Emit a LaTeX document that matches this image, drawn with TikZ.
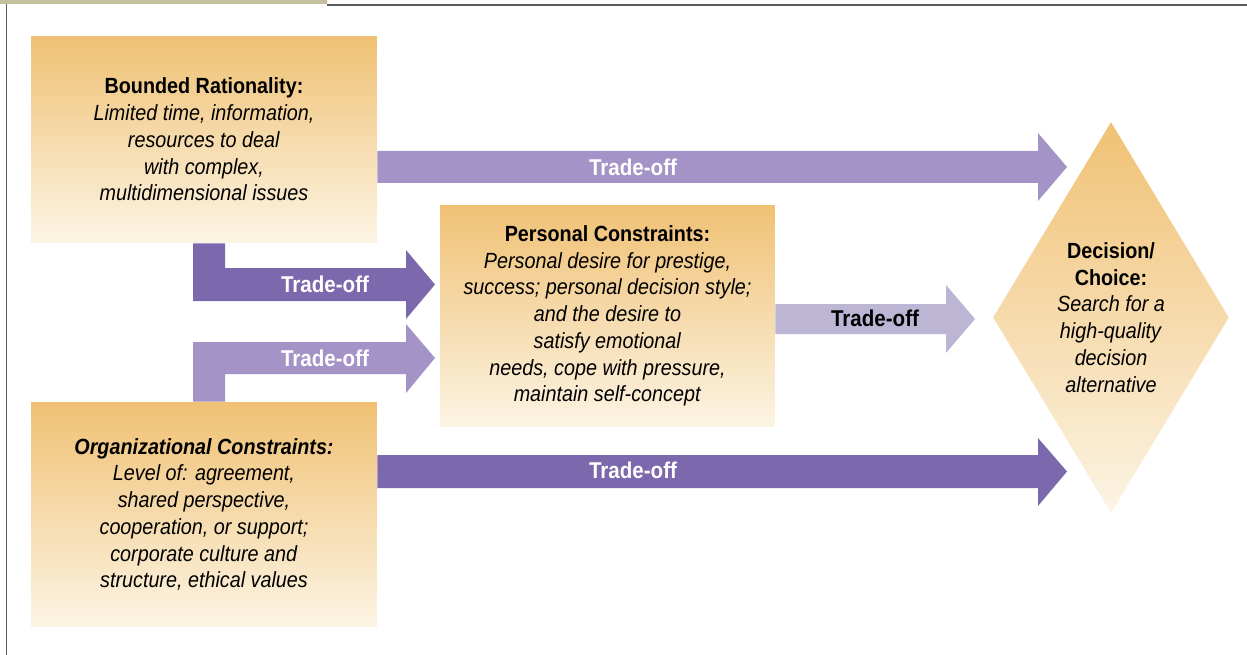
\documentclass[tikz,border=0pt]{standalone}
\usepackage{fontspec}
\setmainfont{Liberation Sans}[FakeStretch=0.9]
\usetikzlibrary{shapes.geometric}

\definecolor{tantop}{RGB}{240,193,116}
\definecolor{tanbot}{RGB}{252,244,228}
\definecolor{plumdark}{RGB}{124,104,172}
\definecolor{plumlight}{RGB}{164,147,199}
\definecolor{plumpale}{RGB}{188,182,212}
\definecolor{framegray}{RGB}{90,90,90}
\definecolor{barkhaki}{RGB}{196,192,160}

\begin{document}
\begin{tikzpicture}[
  x = 0.02cm, y = -0.02cm,
  every node/.style = {font=\fontsize{12.5}{15.2}\selectfont},
  box/.style = {rectangle, align=center, inner sep=0pt,
                top color=tantop, bottom color=tanbot},
  choice/.style = {diamond, align=center, inner sep=0pt, aspect=0.6,
                   top color=tantop, bottom color=tanbot,
                   minimum width=4.72cm, minimum height=7.82cm},
  tradeoff/.style = {font=\fontsize{13}{16}\selectfont\bfseries, text=white, inner sep=1pt},
  tradeoffdark/.style = {tradeoff, text=black},
]
\useasboundingbox (0,0) rectangle (1247,655);

% --- page frame ------------------------------------------------------------
\fill[barkhaki] (0,0) rectangle (327,4.5);
\draw[framegray, line width=0.8pt] (6.5,655) -- (6.5,4.5);
\draw[framegray, line width=0.8pt] (327,5) -- (1247,5);

% --- the three constraint boxes --------------------------------------------
\node[box, minimum width=6.92cm, minimum height=4.14cm] (br) at (204,139.5)
  {\textbf{Bounded Rationality:}\\ \textit{Limited time, information,}\\
   \textit{resources to deal}\\ \textit{with complex,}\\
   \textit{multidimensional issues}};

\node[box, minimum width=6.70cm, minimum height=4.44cm] (pc) at (607.5,316)
  {\textbf{Personal Constraints:}\\ \textit{Personal desire for prestige,}\\
   \textit{success; personal decision style;}\\ \textit{and the desire to}\\
   \textit{satisfy emotional}\\ \textit{needs, cope with pressure,}\\
   \textit{maintain self-concept}};

\node[box, minimum width=6.92cm, minimum height=4.50cm] (oc) at (204,514.5)
  {\textbf{\textit{Organizational Constraints:}}\\ \textit{Level of: agreement,}\\
   \textit{shared perspective,}\\ \textit{cooperation, or support;}\\
   \textit{corporate culture and}\\ \textit{structure, ethical values}};

% --- decision -------------------------------------------------------------
\node[choice] (dc) at (1111,317.5)
  {\textbf{Decision/}\\ \textbf{Choice:}\\ \textit{Search for a}\\
   \textit{high-quality}\\ \textit{decision}\\ \textit{alternative}};

% --- trade-off arrows -------------------------------------------------------
\fill[plumlight] (br.east |- 0,151) -- (1038,151) -- (1038,133) -- (1067,167)
  -- (1038,201) -- (1038,183) -- (br.east |- 0,183) -- cycle;
\node[tradeoff] (t1) at (633,167) {Trade-off};

\fill[plumdark] (193,0 |- br.south) -- (225,0 |- br.south) -- (225,268)
  -- (406,268) -- (406,250) -- (435,284.5) -- (406,319) -- (406,301)
  -- (193,301) -- cycle;
\node[tradeoff] (t2) at (325,284.5) {Trade-off};

\fill[plumlight] (193,0 |- oc.north) -- (193,342) -- (406,342) -- (406,324)
  -- (435,358) -- (406,393) -- (406,374) -- (225,374)
  -- (225,0 |- oc.north) -- cycle;
\node[tradeoff] (t3) at (325,358) {Trade-off};

\fill[plumpale] (pc.east |- 0,304) -- (946,304) -- (946,285) -- (975,319)
  -- (946,353) -- (946,334) -- (pc.east |- 0,334) -- cycle;
\node[tradeoffdark] (t4) at (875,318) {Trade-off};

\fill[plumdark] (oc.east |- 0,455) -- (1038,455) -- (1038,438) -- (1067,471.5)
  -- (1038,506) -- (1038,488) -- (oc.east |- 0,488) -- cycle;
\node[tradeoff] (t5) at (633,470) {Trade-off};

\end{tikzpicture}
\end{document}
